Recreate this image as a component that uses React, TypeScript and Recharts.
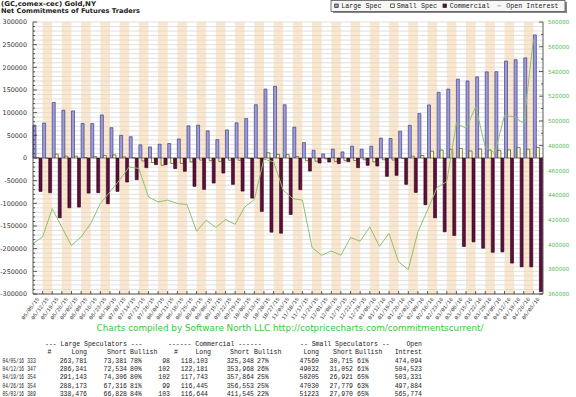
import React from 'react';
import { ComposedChart, Bar, Line, XAxis, YAxis, CartesianGrid, ReferenceArea } from 'recharts';

const dates = [
  '05/05/15','05/12/15','05/19/15','05/26/15','06/02/15','06/09/15','06/16/15','06/23/15','06/30/15','07/07/15',
  '07/14/15','07/21/15','07/28/15','08/04/15','08/11/15','08/18/15','08/25/15','09/01/15','09/08/15','09/15/15',
  '09/22/15','09/29/15','10/06/15','10/13/15','10/20/15','10/27/15','11/03/15','11/10/15','11/17/15','11/24/15',
  '12/01/15','12/08/15','12/15/15','12/22/15','12/29/15','01/05/16','01/12/16','01/19/16','01/26/16','02/02/16',
  '02/09/16','02/16/16','02/23/16','03/01/16','03/08/16','03/15/16','03/22/16','03/29/16','04/05/16','04/12/16',
  '04/19/16','04/26/16','05/03/16',
];

const largeSpec = [
  72500, 77000, 122500, 105500, 104000, 76000, 76000, 95000, 67000, 50000,
  47000, 29000, 24500, 30500, 32000, 42000, 71000, 72500, 60000, 40500,
  62000, 77500, 87000, 117500, 152000, 158000, 117500, 68000, 34000, 17000,
  9000, 19500, 13500, 26000, 19500, 26000, 44000, 43000, 59000, 72000,
  98000, 117000, 145000, 152000, 174000, 170000, 179000, 190000, 190400, 213807,
  216837, 220857, 271648,
];

const smallSpec = [
  1000, -500, 8500, 4000, 4000, 1000, 3000, 5500, 7000, 2500,
  500, -6500, -10000, -16000, -12000, -12000, -8500, -4500, -6000, -7500,
  -5000, -5000, -1000, -1000, 11500, 8000, 7500, 3000, -6000, -7000,
  -2000, -7500, -6000, -5500, -4000, -8500, -4000, -4500, -1000, 4000,
  5500, 15000, 17500, 19000, 21000, 15500, 20000, 17500, 16845, 17980,
  23284, 19251, 23253,
];

const commercial = [
  -73700, -76600, -131900, -109800, -108300, -77400, -76600, -101000, -73700, -53100,
  -47900, -21300, -14700, -14700, -23500, -29400, -62600, -69200, -55300, -33200,
  -58200, -73000, -88500, -117900, -163700, -165900, -124600, -69900, -28800, -11000,
  -8800, -12400, -8000, -21300, -16200, -17700, -40500, -38300, -58200, -75900,
  -103100, -131900, -162900, -171000, -195400, -185000, -199100, -208000, -207245, -231787,
  -240121, -240108, -294901,
];

const openInterest = [
  400800, 406200, 429100, 414000, 399200, 406200, 417000, 433200, 442600, 452100,
  462800, 461500, 438500, 434500, 435900, 433200, 432400, 410800, 419700, 413800,
  420200, 416400, 430400, 436400, 469000, 467000, 444000, 437200, 435900, 397600,
  391300, 394800, 391300, 405700, 402700, 414300, 398600, 408900, 385900, 379800,
  410200, 427800, 446200, 450900, 498500, 493900, 511400, 479000, 474094, 504523,
  503331, 497884, 565774,
];

const leftMajorTicks = [-300000, -250000, -200000, -150000, -100000, -50000, 0, 50000, 100000, 150000, 200000, 250000, 300000];
const rightMajorTicks = [360000, 380000, 400000, 420000, 440000, 460000, 480000, 500000, 520000, 540000, 560000, 580000];

const tableDates = ['04/05/16', '04/12/16', '04/19/16', '04/26/16', '05/03/16'];
const lsCount = ['333', '347', '354', '354', '389'];
const lsLong = ['263,781', '286,341', '291,143', '288,173', '338,476'];
const lsShort = ['73,381', '72,534', '74,306', '67,316', '66,828'];
const lsBull = ['78%', '80%', '80%', '81%', '84%'];
const commCount = ['98', '102', '102', '99', '103'];
const commLong = ['118,103', '122,181', '117,743', '116,445', '116,644'];
const commShort = ['325,348', '353,968', '357,864', '356,553', '411,545'];
const commBull = ['27%', '26%', '25%', '25%', '22%'];
const ssLong = ['47560', '49032', '50205', '47030', '51223'];
const ssShort = ['30,715', '31,052', '26,921', '27,779', '27,970'];
const ssBull = ['61%', '61%', '65%', '63%', '65%'];
const oiTable = ['474,094', '504,523', '503,331', '497,884', '565,774'];

const chartData = dates.map((d, i) => ({
  date: d,
  idx: i,
  ls: largeSpec[i],
  ss: smallSpec[i],
  comm: commercial[i],
  oi: openInterest[i],
}));

const leftTicks: number[] = [];
for (let v = -300000; v <= 300000; v += 10000) leftTicks.push(v);
const rightTicks: number[] = [];
for (let v = 360000; v <= 580000; v += 10000) rightTicks.push(v);

const AXIS_FONT = 'DejaVu Sans, sans-serif';
const MONO = 'Liberation Mono, DejaVu Sans Mono, monospace';

const LeftTick = (props: any) => {
  const { x, y, payload } = props;
  const v = payload.value;
  const major = leftMajorTicks.includes(v);
  return (
    <g>
      <line x1={x} x2={x + (major ? 4 : 2)} y1={y} y2={y} stroke="#333" strokeWidth={0.8} />
      {major && (
        <text x={x - 6} y={y} dy={2.3} textAnchor="end" fontSize={6.4} fill="#333" fontFamily={AXIS_FONT}>
          {v}
        </text>
      )}
    </g>
  );
};

const RightTick = (props: any) => {
  const { x, y, payload } = props;
  const v = payload.value;
  const major = rightMajorTicks.includes(v);
  return (
    <g>
      <line x1={x - (major ? 4 : 2)} x2={x} y1={y} y2={y} stroke="#333" strokeWidth={0.8} />
      {major && (
        <text x={x + 5} y={y} dy={2.2} textAnchor="start" fontSize={5.6} fill="#55bb55" fontFamily={AXIS_FONT}>
          {v}
        </text>
      )}
    </g>
  );
};

const BottomTick = (props: any) => {
  const { x, y, payload, index } = props;
  const off = payload && typeof payload.offset === 'number' ? payload.offset : 0;
  const bx = x - off;
  const lx = x + 1.5;
  const ly = y + 5;
  return (
    <g>
      {index > 0 && <line x1={bx} x2={bx} y1={y} y2={y - 3} stroke="#333" strokeWidth={0.8} />}
      <text
        x={lx}
        y={ly}
        textAnchor="end"
        fontSize={5.4}
        fill="#333"
        fontFamily={MONO}
        transform={`rotate(-54, ${lx}, ${ly})`}
      >
        {payload.value}
      </text>
    </g>
  );
};

const rowY = [362.5, 370.9, 379.2, 387.5, 395.9];

export default function App() {
  return (
    <div style={{ position: 'absolute', left: 0, top: 0, width: 576, height: 397, background: '#fff', overflow: 'hidden' }}>
      <ComposedChart
        width={576}
        height={330}
        data={chartData}
        margin={{ top: 22, right: 0, bottom: 0, left: 0 }}
        barCategoryGap={0}
        barGap={0}
      >
        {dates.map((d, i) =>
          i % 2 === 1 ? (
            <ReferenceArea
              key={d}
              xAxisId="cat"
              yAxisId="left"
              x1={d}
              x2={d}
              fill="#fce7cc"
              fillOpacity={1}
              stroke="none"
              ifOverflow="visible"
              {...({ zIndex: -110 } as any)}
            />
          ) : null
        )}
        <CartesianGrid yAxisId="left" xAxisId="cat" vertical={false} stroke="#d8d8d8" strokeWidth={0.8} />
        <XAxis
          xAxisId="cat"
          dataKey="date"
          type="category"
          height={36}
          interval={0}
          tickSize={0}
          tickMargin={0}
          tickLine={false}
          axisLine={{ stroke: '#333', strokeWidth: 0.8 }}
          tick={<BottomTick />}
        />
        <XAxis xAxisId="oi" dataKey="idx" type="number" domain={[0, 53]} hide />
        <YAxis
          yAxisId="left"
          orientation="left"
          width={33}
          domain={[-300000, 300000]}
          ticks={leftTicks}
          interval={0}
          tickSize={0}
          tickMargin={0}
          tickLine={false}
          axisLine={{ stroke: '#333', strokeWidth: 0.8 }}
          tick={<LeftTick />}
          allowDataOverflow
        />
        <YAxis
          yAxisId="right"
          orientation="right"
          width={33}
          domain={[360000, 580000]}
          ticks={rightTicks}
          interval={0}
          tickSize={0}
          tickMargin={0}
          tickLine={false}
          axisLine={{ stroke: '#333', strokeWidth: 0.8 }}
          tick={<RightTick />}
          allowDataOverflow
        />
        <Bar xAxisId="cat" yAxisId="left" dataKey="ls" fill="#9d9be0" stroke="#2e2e66" strokeWidth={0.6} isAnimationActive={false} />
        <Bar xAxisId="cat" yAxisId="left" dataKey="ss" fill="#ffffc8" stroke="#333300" strokeWidth={0.6} isAnimationActive={false} />
        <Bar xAxisId="cat" yAxisId="left" dataKey="comm" fill="#5e0f3c" stroke="#2a0018" strokeWidth={0.6} isAnimationActive={false} />
        <Line
          xAxisId="oi"
          yAxisId="right"
          dataKey="oi"
          type="linear"
          stroke="#8fc070"
          strokeWidth={1}
          dot={false}
          isAnimationActive={false}
        />
      </ComposedChart>

      <svg
        width={576}
        height={397}
        style={{ position: 'absolute', left: 0, top: 0, pointerEvents: 'none' }}
      >
        <text x={1} y={6} fontSize={6.6} fontWeight="bold" fontFamily={AXIS_FONT} fill="#222" textLength={95} lengthAdjust="spacingAndGlyphs">
          (GC,comex-cec) Gold,NY
        </text>
        <text x={1} y={12.5} fontSize={6.6} fontWeight="bold" fontFamily={AXIS_FONT} fill="#222" textLength={139} lengthAdjust="spacingAndGlyphs">
          Net Commitments of Futures Traders
        </text>

        <rect x={333} y={2} width={234} height={11} fill="#888" />
        <rect x={331} y={0.5} width={234} height={11} fill="#f7f7f7" stroke="#555" strokeWidth={0.8} />
        <rect x={334.7} y={4} width={3.5} height={3.5} fill="#9d9be0" stroke="#222" strokeWidth={0.7} />
        <text x={341.3} y={8.2} fontSize={6.7} fontFamily={MONO} fill="#222">Large Spec</text>
        <rect x={390.7} y={4} width={3.5} height={3.5} fill="#ffffc8" stroke="#222" strokeWidth={0.7} />
        <text x={396.8} y={8.2} fontSize={6.7} fontFamily={MONO} fill="#222">Small Spec</text>
        <rect x={443} y={4} width={3.5} height={3.5} fill="#5e0f3c" stroke="#222" strokeWidth={0.7} />
        <text x={449.7} y={8.2} fontSize={6.7} fontFamily={MONO} fill="#222">Commercial</text>
        <line x1={497.3} x2={501.3} y1={5.8} y2={5.8} stroke="#8fc070" strokeWidth={1} />
        <text x={506.3} y={8.2} fontSize={6.7} fontFamily={MONO} fill="#222">Open Interest</text>

        <text x={96.5} y={331} fontSize={9.5} fontFamily={AXIS_FONT} fill="#33cc33" textLength={387} lengthAdjust="spacingAndGlyphs">
          Charts compiled by Software North LLC  http://cotpricecharts.com/commitmentscurrent/
        </text>

        <g fontFamily={MONO} fontSize={6.5} fill="#222">
          <text x={45} y={345.6}>--- Large Speculators ---</text>
          <text x={168} y={345.6}>------ Commercial ------</text>
          <text x={300} y={345.6}>-- Small Speculators --</text>
          <text x={422} y={345.6} textAnchor="end">Open</text>

          <text x={47.5} y={354}>#</text>
          <text x={87} y={354} textAnchor="end">Long</text>
          <text x={107} y={354}>Short</text>
          <text x={130} y={354}>Bullish</text>
          <text x={174} y={354}>#</text>
          <text x={211} y={354} textAnchor="end">Long</text>
          <text x={230} y={354}>Short</text>
          <text x={254} y={354}>Bullish</text>
          <text x={319} y={354} textAnchor="end">Long</text>
          <text x={333} y={354}>Short</text>
          <text x={355} y={354}>Bullish</text>
          <text x={422} y={354} textAnchor="end">Intrest</text>

          {tableDates.map((d, i) => (
            <g key={d}>
              <text x={0} y={0} transform={`translate(2.5, ${rowY[i]}) scale(0.69, 1)`}>{d}</text>
              <text x={0} y={0} transform={`translate(27.2, ${rowY[i]}) scale(0.73, 1)`}>{lsCount[i]}</text>
              <text x={87} y={rowY[i]} textAnchor="end">{lsLong[i]}</text>
              <text x={127} y={rowY[i]} textAnchor="end">{lsShort[i]}</text>
              <text x={130} y={rowY[i]}>{lsBull[i]}</text>
              <text x={170} y={rowY[i]} textAnchor="end">{commCount[i]}</text>
              <text x={208} y={rowY[i]} textAnchor="end">{commLong[i]}</text>
              <text x={254} y={rowY[i]} textAnchor="end">{commShort[i]}</text>
              <text x={257} y={rowY[i]}>{commBull[i]}</text>
              <text x={319} y={rowY[i]} textAnchor="end">{ssLong[i]}</text>
              <text x={353} y={rowY[i]} textAnchor="end">{ssShort[i]}</text>
              <text x={357} y={rowY[i]}>{ssBull[i]}</text>
              <text x={422} y={rowY[i]} textAnchor="end">{oiTable[i]}</text>
            </g>
          ))}
        </g>
      </svg>
    </div>
  );
}
